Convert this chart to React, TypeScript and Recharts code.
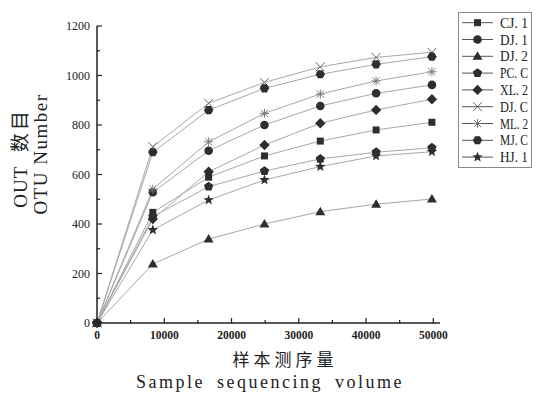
import { LineChart, Line, XAxis, YAxis } from 'recharts';

const depths = [0, 8300, 16600, 24900, 33200, 41500, 49800];
const seriesNames = ['CJ. 1', 'DJ. 1', 'DJ. 2', 'PC. C', 'XL. 2', 'DJ. C', 'ML. 2', 'MJ. C', 'HJ. 1'];
const seriesShapes = ['square', 'circle', 'triangle', 'pentagon', 'diamond', 'cross', 'asterisk', 'hexagon', 'star'];

const cj1 = [0, 447, 589, 675, 735, 780, 811];
const dj1 = [0, 528, 696, 800, 877, 928, 962];
const dj2 = [0, 238, 339, 400, 450, 480, 501];
const pcc = [0, 430, 551, 614, 663, 690, 708];
const xl2 = [0, 420, 611, 719, 807, 861, 904];
const djc = [0, 712, 888, 972, 1035, 1073, 1094];
const ml2 = [0, 541, 732, 847, 925, 978, 1015];
const mjc = [0, 690, 860, 948, 1005, 1045, 1076];
const hj1 = [0, 376, 497, 578, 632, 675, 692];

const seriesValues = [cj1, dj1, dj2, pcc, xl2, djc, ml2, mjc, hj1];

const xTicks = [0, 5000, 10000, 15000, 20000, 25000, 30000, 35000, 40000, 45000, 50000];
const yTicks = [0, 100, 200, 300, 400, 500, 600, 700, 800, 900, 1000, 1100, 1200];

const FONT = "'Liberation Serif', 'Noto Sans CJK SC', serif";
const CJK = "'Noto Sans CJK SC', 'Liberation Serif', serif";
const MARK = '#2e2e2e';

const data = depths.map((x, i) => {
  const row: Record<string, number> = { x };
  seriesNames.forEach((n, s) => {
    row[n] = seriesValues[s][i];
  });
  return row;
});

function poly(cx: number, cy: number, r: number, n: number, rot = -90) {
  const pts: string[] = [];
  for (let i = 0; i < n; i++) {
    const a = ((rot + (360 / n) * i) * Math.PI) / 180;
    pts.push(`${cx + r * Math.cos(a)},${cy + r * Math.sin(a)}`);
  }
  return pts.join(' ');
}

function starPts(cx: number, cy: number, ro: number, ri: number) {
  const pts: string[] = [];
  for (let i = 0; i < 10; i++) {
    const r = i % 2 === 0 ? ro : ri;
    const a = ((-90 + 36 * i) * Math.PI) / 180;
    pts.push(`${cx + r * Math.cos(a)},${cy + r * Math.sin(a)}`);
  }
  return pts.join(' ');
}

function Marker({ shape, cx, cy }: { shape: string; cx: number; cy: number }) {
  switch (shape) {
    case 'square':
      return <rect x={cx - 3.5} y={cy - 3.5} width={7} height={7} fill={MARK} />;
    case 'circle':
      return <circle cx={cx} cy={cy} r={4.3} fill={MARK} />;
    case 'triangle':
      return <polygon points={`${cx},${cy - 5} ${cx + 5},${cy + 3.5} ${cx - 5},${cy + 3.5}`} fill={MARK} />;
    case 'pentagon':
      return <polygon points={poly(cx, cy, 4.9, 5)} fill={MARK} />;
    case 'diamond':
      return <polygon points={poly(cx, cy, 5.2, 4)} fill={MARK} />;
    case 'hexagon':
      return <polygon points={poly(cx, cy, 4.7, 6, 0)} fill={MARK} />;
    case 'star':
      return <polygon points={starPts(cx, cy, 5.5, 2.3)} fill={MARK} />;
    case 'cross':
      return (
        <g stroke="#666" strokeWidth={1}>
          <line x1={cx - 4.5} y1={cy - 4.5} x2={cx + 4.5} y2={cy + 4.5} />
          <line x1={cx - 4.5} y1={cy + 4.5} x2={cx + 4.5} y2={cy - 4.5} />
        </g>
      );
    case 'asterisk':
      return (
        <g stroke="#777" strokeWidth={1}>
          <line x1={cx - 4.5} y1={cy} x2={cx + 4.5} y2={cy} />
          <line x1={cx} y1={cy - 4.5} x2={cx} y2={cy + 4.5} />
          <line x1={cx - 3.5} y1={cy - 3.5} x2={cx + 3.5} y2={cy + 3.5} />
          <line x1={cx - 3.5} y1={cy + 3.5} x2={cx + 3.5} y2={cy - 3.5} />
        </g>
      );
    default:
      return null;
  }
}

function YTick(props: any) {
  const { x, y, payload } = props;
  const major = payload.value % 200 === 0;
  const ax = x + 7;
  return (
    <g>
      <line x1={ax} x2={ax + (major ? 5 : 3)} y1={y} y2={y} stroke="#222" strokeWidth={1.2} />
      {major && (
        <text x={x} y={y} dy={4} textAnchor="end" fontFamily={FONT} fontSize={12} fill="#222">
          {payload.value}
        </text>
      )}
    </g>
  );
}

function XTick(props: any) {
  const { x, y, payload } = props;
  const major = payload.value % 10000 === 0;
  const ay = y - 6;
  return (
    <g>
      <line x1={x} x2={x} y1={ay} y2={ay - (major ? 5 : 3)} stroke="#222" strokeWidth={1.2} />
      {major && (
        <text x={x} y={y} dy={10} textAnchor="middle" fontFamily={FONT} fontSize={11.5} fontWeight="bold" fill="#222">
          {payload.value}
        </text>
      )}
    </g>
  );
}

function LegendBox() {
  const rowH = 16.8;
  return (
    <svg width={78} height={156} style={{ position: 'absolute', left: 458, top: 12 }}>
      <rect x={0.5} y={0.5} width={73} height={155} fill="#fff" stroke="#888" />
      {seriesNames.map((n, i) => {
        const cy = 10.7 + i * rowH;
        return (
          <g key={n}>
            <line x1={4} x2={35} y1={cy} y2={cy} stroke="#555" />
            <Marker shape={seriesShapes[i]} cx={19.5} cy={cy} />
            <text
              x={42}
              y={cy + 5}
              fontFamily={FONT}
              fontSize={14}
              fill="#222"
              textLength={28}
              lengthAdjust="spacingAndGlyphs"
            >
              {n}
            </text>
          </g>
        );
      })}
    </svg>
  );
}

export default function App() {
  return (
    <div style={{ position: 'absolute', left: 0, top: 0, width: 536, height: 393, background: '#fff' }}>
      <LineChart width={536} height={393} data={data} margin={{ top: 26, right: 96, bottom: 40, left: 0 }}>
        <XAxis
          dataKey="x"
          type="number"
          domain={[0, 51000]}
          ticks={xTicks}
          interval={0}
          height={30}
          tickSize={0}
          tickMargin={6}
          tickLine={false}
          tick={<XTick />}
          axisLine={{ stroke: '#222', strokeWidth: 1.5 }}
        />
        <YAxis
          type="number"
          domain={[0, 1200]}
          ticks={yTicks}
          interval={0}
          width={97}
          tickSize={0}
          tickMargin={7}
          tickLine={false}
          tick={<YTick />}
          axisLine={{ stroke: '#222', strokeWidth: 1.5 }}
        />
        {seriesNames.map((n, s) => (
          <Line
            key={n}
            dataKey={n}
            type="linear"
            stroke="#a8a8a8"
            strokeWidth={1}
            isAnimationActive={false}
            dot={(p: any) => <Marker key={`${n}-${p.index}`} shape={seriesShapes[s]} cx={p.cx} cy={p.cy} />}
            activeDot={false}
          />
        ))}
      </LineChart>
      <LegendBox />
      <div
        style={{
          position: 'absolute',
          left: 18,
          top: 158,
          transform: 'translate(-50%, -50%) rotate(-90deg)',
          whiteSpace: 'nowrap',
          fontFamily: FONT,
          fontSize: 19,
          letterSpacing: 1,
          wordSpacing: 8,
          color: '#222',
        }}
      >
        OUT <span style={{ fontFamily: CJK, letterSpacing: 3 }}>数目</span>
      </div>
      <div
        style={{
          position: 'absolute',
          left: 41,
          top: 154,
          transform: 'translate(-50%, -50%) rotate(-90deg)',
          whiteSpace: 'nowrap',
          fontFamily: FONT,
          fontSize: 19,
          letterSpacing: 1.5,
          color: '#222',
        }}
      >
        OTU Number
      </div>
      <div
        style={{
          position: 'absolute',
          left: 285,
          top: 358,
          transform: 'translate(-50%, -50%)',
          whiteSpace: 'nowrap',
          fontFamily: CJK,
          fontSize: 17,
          letterSpacing: 4,
          color: '#222',
        }}
      >
        样本测序量
      </div>
      <div
        style={{
          position: 'absolute',
          left: 270,
          top: 382,
          transform: 'translate(-50%, -50%)',
          whiteSpace: 'nowrap',
          fontFamily: FONT,
          fontSize: 18,
          letterSpacing: 2.5,
          wordSpacing: 5,
          color: '#222',
        }}
      >
        Sample sequencing volume
      </div>
    </div>
  );
}
